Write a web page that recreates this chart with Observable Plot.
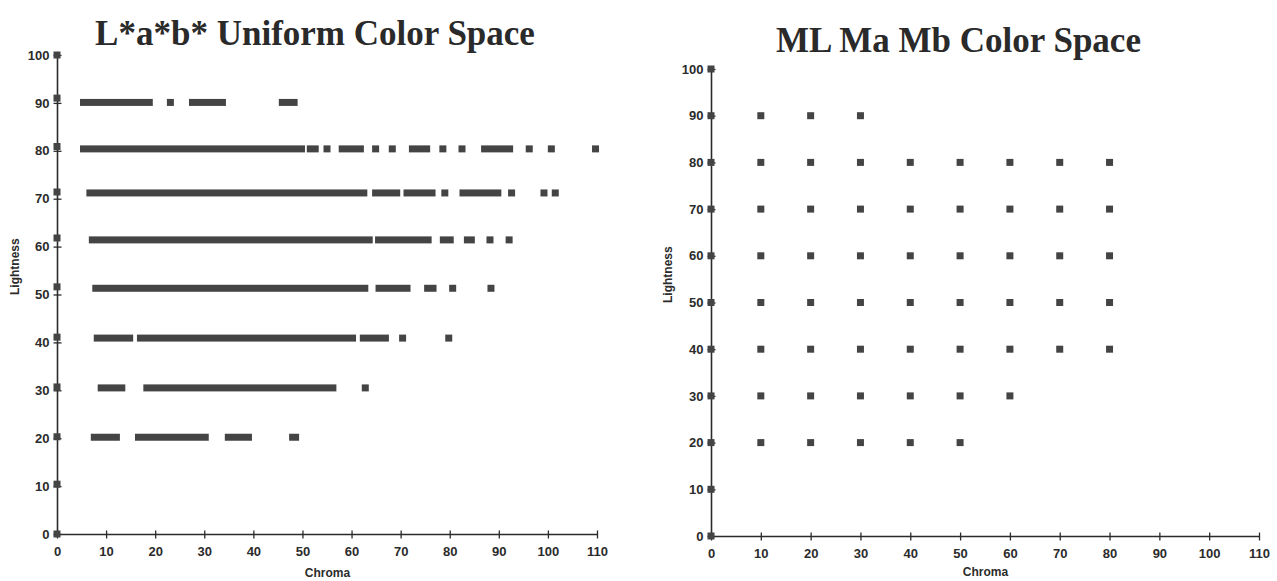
<!DOCTYPE html>
<html>
<head>
<meta charset="utf-8">
<script src="https://cdn.jsdelivr.net/npm/d3@7"></script>
<script src="https://cdn.jsdelivr.net/npm/@observablehq/plot@0.6"></script>
<style>
  html, body { margin: 0; padding: 0; background: #fff; }
  body { width: 1277px; height: 581px; overflow: hidden; position: relative; }
  .panel { position: absolute; top: 0; }
  .title {
    font-family: "Liberation Serif", "Times New Roman", serif;
    font-weight: bold; font-size: 35px; line-height: 35px;
    text-align: center; color: #2a2a2a; white-space: nowrap; box-sizing: border-box;
  }
  svg { display: block; overflow: visible; }
</style>
</head>
<body>
<div id="left" class="panel" style="left:0px;width:630px">
  <div class="title" style="height:50px;padding-top:16px">L*a*b* Uniform Color Space</div>
</div>
<div id="right" class="panel" style="left:640px;width:637px">
  <div class="title" style="height:60px;padding-top:23px">ML Ma Mb Color Space</div>
</div>
<script>
// ---------- shared tick labels ----------
const chromaTicks = [0, 10, 20, 30, 40, 50, 60, 70, 80, 90, 100, 110];
const lightnessTicks = [0, 10, 20, 30, 40, 50, 60, 70, 80, 90, 100];

// ---------- L*a*b* chart: lightness level of each row, and [start, end] chroma runs ----------
const labLightness = [90.1, 80.4, 71.2, 61.4, 51.3, 40.9, 30.5, 20.2];
const labRuns90 = [[5.4, 18.8], [23.1, 23.1], [27.6, 33.7], [45.9, 48.3]];
const labRuns80 = [[5.4, 49.8], [51.6, 52.6], [55.0, 55.0], [58.1, 61.8], [64.9, 64.9], [68.3, 68.3],
                   [72.4, 75.3], [78.6, 78.6], [82.5, 82.5], [87.1, 92.2], [96.2, 96.2], [100.7, 100.7], [109.7, 109.7]];
const labRuns70 = [[6.7, 62.5], [64.9, 69.2], [71.3, 76.4], [79.0, 79.0], [82.7, 89.8], [92.6, 92.6], [99.2, 99.2], [101.5, 101.5]];
const labRuns60 = [[7.2, 63.6], [65.5, 75.6], [78.7, 80.1], [83.6, 84.4], [88.2, 88.2], [92.1, 92.1]];
const labRuns50 = [[7.9, 62.7], [65.6, 71.3], [75.5, 76.6], [80.6, 80.6], [88.4, 88.4]];
const labRuns40 = [[8.2, 14.8], [17.0, 60.2], [62.4, 66.9], [70.4, 70.4], [79.8, 79.8]];
const labRuns30 = [[9.0, 13.2], [18.3, 56.2], [62.8, 62.8]];
const labRuns20 = [[7.6, 12.1], [16.6, 30.2], [34.9, 39.0], [48.0, 48.6]];
const labNeutral = [0, 10.4, 20.3, 30.7, 41.1, 51.6, 61.8, 71.4, 80.9, 91.0, 100];

// ---------- ML Ma Mb chart: lightness rows and chroma values ----------
const mlLightness = [90, 80, 70, 60, 50, 40, 30, 20];
const mlChroma90 = [10, 20, 30];
const mlChroma80 = [10, 20, 30, 40, 50, 60, 70, 80];
const mlChroma70 = [10, 20, 30, 40, 50, 60, 70, 80];
const mlChroma60 = [10, 20, 30, 40, 50, 60, 70, 80];
const mlChroma50 = [10, 20, 30, 40, 50, 60, 70, 80];
const mlChroma40 = [10, 20, 30, 40, 50, 60, 70, 80];
const mlChroma30 = [10, 20, 30, 40, 50, 60];
const mlChroma20 = [10, 20, 30, 40, 50];
const mlNeutral = [0, 10, 20, 30, 40, 50, 60, 70, 80, 90, 100];

// ---------- tables ----------
const labRunsAll = [labRuns90, labRuns80, labRuns70, labRuns60, labRuns50, labRuns40, labRuns30, labRuns20];
const labTable = labLightness.flatMap((L, i) => labRunsAll[i].map(([a, b]) => ({L, c1: a, c2: b})))
  .concat(labNeutral.map(L => ({L, c1: 0, c2: 0})));

const mlAll = [mlChroma90, mlChroma80, mlChroma70, mlChroma60, mlChroma50, mlChroma40, mlChroma30, mlChroma20];
const mlTable = mlLightness.flatMap((L, i) => mlAll[i].map(c => ({L, c1: c, c2: c})))
  .concat(mlNeutral.map(L => ({L, c1: 0, c2: 0})));

// ---------- styling ----------
const ink = "#2b2b2b";
const squareFill = "#444444";
const vTick = {draw(ctx) { ctx.moveTo(0, -4); ctx.lineTo(0, 4); }};
const hTick = {draw(ctx) { ctx.moveTo(-4, 0); ctx.lineTo(4, 0); }};

function chart(table, opts) {
  return Plot.plot({
    width: opts.width,
    height: opts.height,
    marginLeft: opts.ml, marginRight: opts.mr, marginTop: opts.mt, marginBottom: opts.mb,
    style: `font-family: 'Liberation Sans', Arial, sans-serif; font-size: 13px; font-weight: bold; color: ${ink}; background: transparent;`,
    x: {domain: [0, 110]},
    y: {domain: [0, 100]},
    marks: [
      Plot.axisX({ticks: chromaTicks, tickSize: 0, tickPadding: 12, label: null, fontSize: 13, fontWeight: "bold"}),
      Plot.axisY({ticks: lightnessTicks, tickSize: 0, tickPadding: 8, label: null, fontSize: 13, fontWeight: "bold"}),
      Plot.ruleY([0], {x1: 0, x2: 110, stroke: ink, strokeWidth: 1.6}),
      Plot.ruleX([0], {y1: 0, y2: 100, stroke: ink, strokeWidth: 1.6}),
      Plot.dot(chromaTicks, {x: d => d, y: 0, symbol: vTick, stroke: ink, fill: "none", strokeWidth: 1.3}),
      Plot.dot(lightnessTicks, {x: 0, y: d => d, symbol: hTick, stroke: ink, fill: "none", strokeWidth: 1.3}),
      Plot.rect(table, {x1: "c1", x2: "c2", y1: "L", y2: "L", inset: -3.5, fill: squareFill}),
      Plot.text(["Lightness"], {frameAnchor: "left", dx: opts.lx, rotate: -90, fontSize: 12, fontWeight: "bold", fill: ink}),
      Plot.text(["Chroma"], {frameAnchor: "bottom", dy: opts.cy, fontSize: 12, fontWeight: "bold", fill: ink})
    ]
  });
}

document.getElementById("left").appendChild(
  chart(labTable, {width: 630, height: 531, ml: 57, mr: 33, mt: 5, mb: 47, lx: -42, cy: 42})
);
document.getElementById("right").appendChild(
  chart(mlTable, {width: 637, height: 521, ml: 71, mr: 18, mt: 9, mb: 45, lx: -43, cy: 39})
);
</script>
</body>
</html>
